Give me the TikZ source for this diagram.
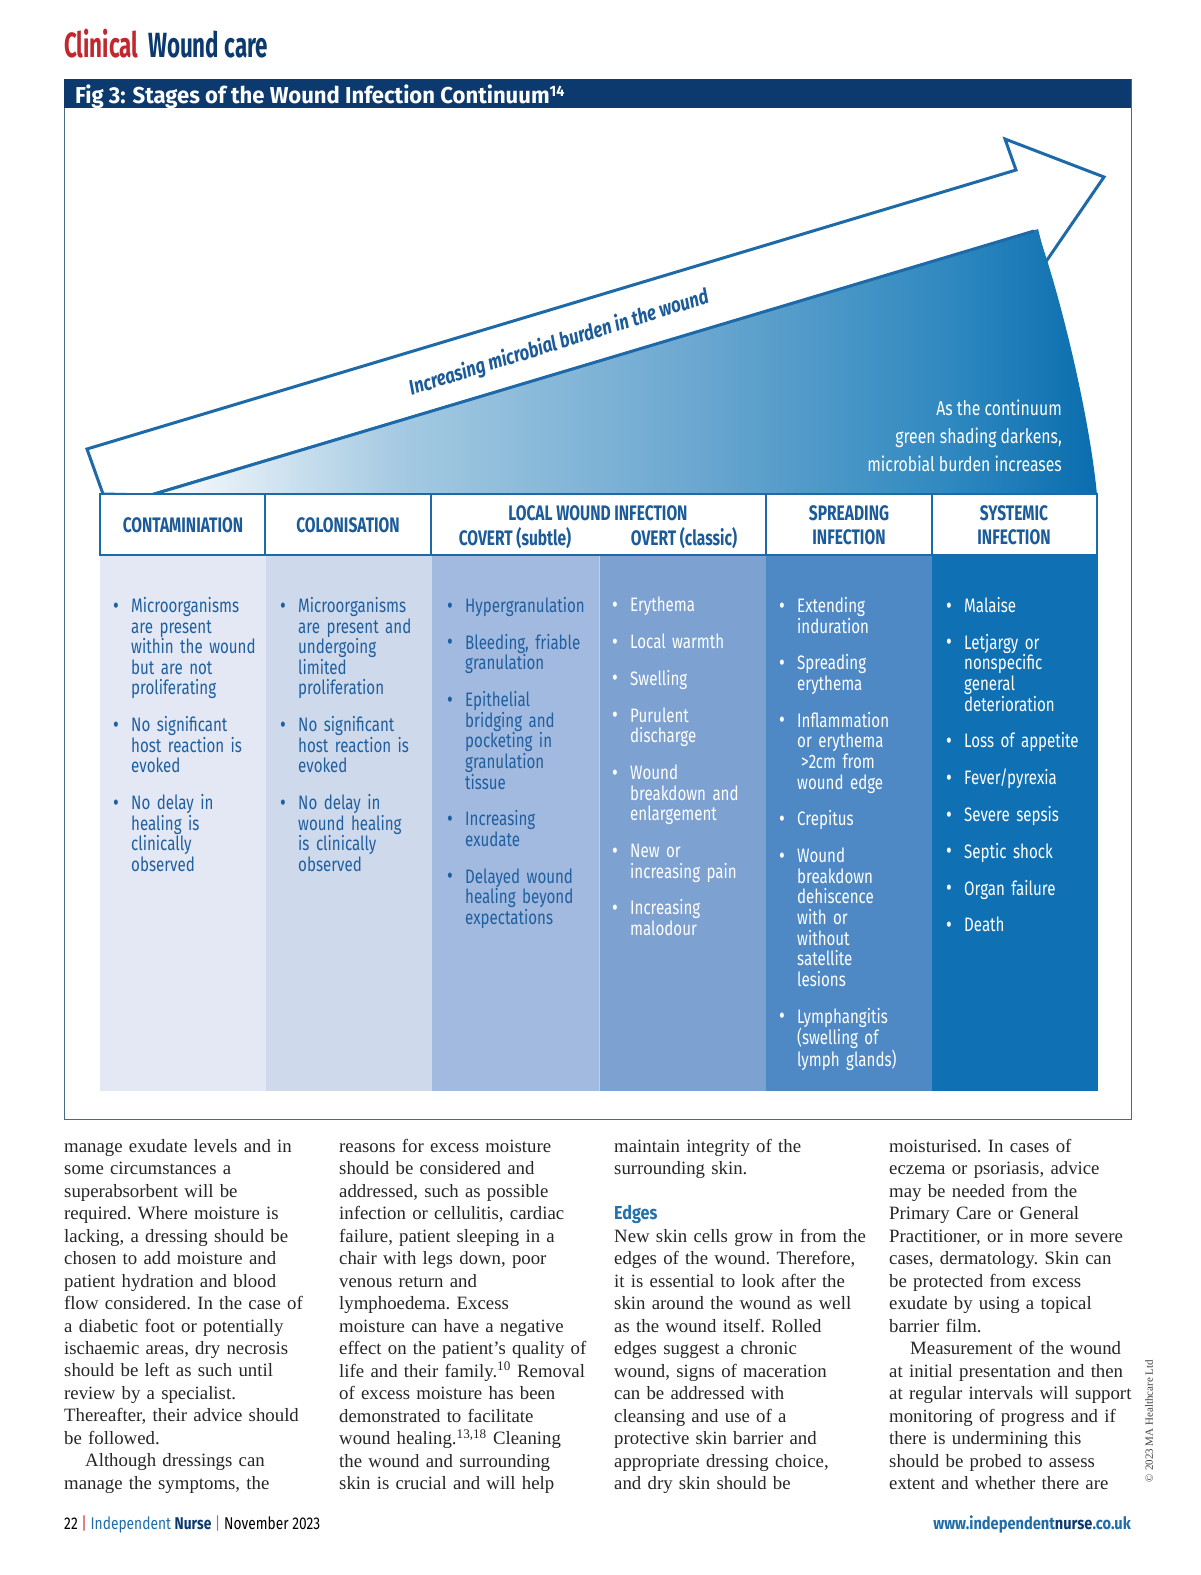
\documentclass[tikz,border=0pt]{standalone}
\usepackage{fontspec}
\setmainfont{Liberation Serif}
\newfontfamily\cond{Fira Sans}[FakeStretch=0.775]
\newfontfamily\condn{Fira Sans}[FakeStretch=0.79]
\newfontfamily\condh{Fira Sans}[FakeStretch=0.74]
\newfontfamily\conda{Fira Sans}[FakeStretch=0.80]
\newfontfamily\condt{Fira Sans}[FakeStretch=0.64]
\newfontfamily\condf{Fira Sans}[FakeStretch=0.81]
\newfontfamily\condu{Fira Sans}[FakeStretch=0.86]
\newfontfamily\condg{Fira Sans}[FakeStretch=0.96]
\definecolor{navy}{HTML}{0C3A6E}
\definecolor{cred}{HTML}{C1272D}
\definecolor{lineblue}{HTML}{1E6AA8}
\definecolor{hdrblue}{HTML}{1B5B99}
\definecolor{txtblue}{HTML}{1F5F9F}
\definecolor{gA}{HTML}{DCEAF4}
\definecolor{gB}{HTML}{A5CAE2}
\definecolor{gC}{HTML}{6AA7D0}
\definecolor{gD}{HTML}{3089C0}
\definecolor{gE}{HTML}{0A6DAE}
\definecolor{colA}{HTML}{E3E8F4}
\definecolor{colB}{HTML}{CFD9EC}
\definecolor{colC}{HTML}{A2BADF}
\definecolor{colD}{HTML}{7DA1D1}
\definecolor{colE}{HTML}{4E89C6}
\definecolor{colF}{HTML}{1070B4}
\definecolor{framec}{HTML}{4A6A80}
\definecolor{edgeblue}{HTML}{2372AE}
\definecolor{urlblue}{HTML}{1F6CA8}
\pgfdeclarehorizontalshading{wedgeshade}{100bp}{color(0bp)=(white); color(25bp)=(white); color(30bp)=(gA); color(38bp)=(gB); color(54bp)=(gC); color(67bp)=(gD); color(75bp)=(gE); color(100bp)=(gE)}
\newcommand\bul{\leavevmode\llap{\makebox[18pt][l]{{\fontsize{23}{20.6}\selectfont\raisebox{-0.6pt}{•}}}}}
\tikzset{
  coltxt/.style={anchor=north west, inner sep=0pt, text width=160pt, align=left,
    font=\cond\fontsize{19.5}{20.6}\selectfont},
  bodytxt/.style={anchor=north west, inner sep=0pt, text width=300pt, align=left,
    font=\frenchspacing\fontsize{18.8}{22.47}\selectfont, text=black!85},
  hdr/.style={inner sep=0pt, align=center, text=hdrblue,
    font=\condh\bfseries\fontsize{21}{24.5}\selectfont},
  cell/.style={draw=lineblue, line width=2pt, fill=white},
}
\begin{document}
\begin{tikzpicture}[x=1pt,y=-1pt]
\useasboundingbox (0,0) rectangle (1200,1575);
\fill[white] (0,0) rectangle (1200,1575);

% page heading
\node[anchor=base west, inner sep=0pt, font=\condt\bfseries\fontsize{35}{40}\selectfont] (head) at (64,57)
  {\textcolor{cred}{Clinical}\hspace{10pt}\textcolor{navy}{Wound care}};

% figure frame and title bar
\draw[framec, line width=0.8pt] (64,79) rectangle (1131,1119);
\fill[navy] (64,79) rectangle (1131,108);
\node[anchor=base west, inner sep=0pt, text=white, font=\condg\bfseries\fontsize{23}{26}\selectfont] (figtitle) at (75,103)
  {Fig 3: Stages of the Wound Infection Continuum\raisebox{7pt}{\fontsize{15}{16}\selectfont 14}};

% big arrow
\draw[lineblue, line width=3pt, line join=miter, fill=white]
  (103,494) -- (87,449) -- (1016,170) -- (1005,139) -- (1104,177) -- (1045,263) -- (1037,231) -- (151,495) -- cycle;
% gradient wedge
\shade[shading=wedgeshade]
  (151,495) -- (1037,230) .. controls (1062,300) and (1090,420) .. (1097,495) -- cycle;
\draw[lineblue, line width=3pt] (151,495) -- (1034,231);

\node[inner sep=0pt, rotate=17.3, text=hdrblue, font=\conda\bfseries\itshape\fontsize{21}{24}\selectfont] (arrowlbl) at (559,343)
  {Increasing microbial burden in the wound};
\node[anchor=north east, inner sep=0pt, align=right, text=white, font=\condn\fontsize{20}{28}\selectfont] (note) at (1062,400)
  {As the continuum\\green shading darkens,\\microbial burden increases};

% body columns
\fill[colA] (100,556) rectangle (266,1091);
\fill[colB] (266,556) rectangle (432,1091);
\fill[colC] (432,556) rectangle (599,1091);
\fill[colD] (599,556) rectangle (766,1091);
\fill[colE] (766,556) rectangle (932,1091);
\fill[colF] (932,556) rectangle (1098,1091);
\draw[white, opacity=0.5, line width=0.8pt] (599,556) -- (599,1091);

% header cells
\draw[cell] (100,494) rectangle (265,555);
\draw[cell] (265,494) rectangle (431,555);
\draw[cell] (431,494) rectangle (766,555);
\draw[cell] (766,494) rectangle (932,555);
\draw[cell] (932,494) rectangle (1097,555);
\node[hdr] (h1) at (183,525) {CONTAMINIATION};
\node[hdr] (h2) at (348,525) {COLONISATION};
\node[hdr] (h3) at (598,513) {LOCAL WOUND INFECTION};
\node[hdr] (h3a) at (515,538) {COVERT (subtle)};
\node[hdr] (h3b) at (684,538) {OVERT (classic)};
\node[hdr] (h4) at (849,525) {SPREADING\\INFECTION};
\node[hdr] (h5) at (1014,525) {SYSTEMIC\\INFECTION};

% column texts
\node[coltxt, text=txtblue] (c1) at (131,597) {\setlength{\parskip}{16.2pt}%
\bul Microorganisms\\are present\\within the wound\\but are not\\proliferating\par
\bul No significant\\host reaction is\\evoked\par
\bul No delay in\\healing is\\clinically\\observed};
\node[coltxt, text=txtblue] (c2) at (298,597) {\setlength{\parskip}{16.2pt}%
\bul Microorganisms\\are present and\\undergoing\\limited\\proliferation\par
\bul No significant\\host reaction is\\evoked\par
\bul No delay in\\wound healing\\is clinically\\observed};
\node[coltxt, text=txtblue] (c3) at (465,597) {\setlength{\parskip}{16.2pt}%
\bul Hypergranulation\par
\bul Bleeding, friable\\granulation\par
\bul Epithelial\\bridging and\\pocketing in\\granulation\\tissue\par
\bul Increasing\\exudate\par
\bul Delayed wound\\healing beyond\\expectations};
\node[coltxt, text=white] (c4) at (630,597) {\setlength{\parskip}{16.2pt}%
\bul Erythema\par
\bul Local warmth\par
\bul Swelling\par
\bul Purulent\\discharge\par
\bul Wound\\breakdown and\\enlargement\par
\bul New or\\increasing pain\par
\bul Increasing\\malodour};
\node[coltxt, text=white] (c5) at (797,597) {\setlength{\parskip}{16.2pt}%
\bul Extending\\induration\par
\bul Spreading\\erythema\par
\bul Inflammation\\or erythema\\\hspace*{4pt}>2cm from\\wound edge\par
\bul Crepitus\par
\bul Wound\\breakdown\\dehiscence\\with or\\without\\satellite\\lesions\par
\bul Lymphangitis\\(swelling of\\lymph glands)};
\node[coltxt, text=white] (c6) at (964,597) {\setlength{\parskip}{16.2pt}%
\bul Malaise\par
\bul Letjargy or\\nonspecific\\general\\deterioration\par
\bul Loss of appetite\par
\bul Fever/pyrexia\par
\bul Severe sepsis\par
\bul Septic shock\par
\bul Organ failure\par
\bul Death};

% article body text
\node[bodytxt] (b1) at (64,1139) {manage exudate levels and in\\some circumstances a\\superabsorbent will be\\required. Where moisture is\\lacking, a dressing should be\\chosen to add moisture and\\patient hydration and blood\\flow considered. In the case of\\a diabetic foot or potentially\\ischaemic areas, dry necrosis\\should be left as such until\\review by a specialist.\\Thereafter, their advice should\\be followed.\\\hspace*{21pt}Although dressings can\\manage the symptoms, the};
\node[bodytxt] (b2) at (339,1139) {reasons for excess moisture\\should be considered and\\addressed, such as possible\\infection or cellulitis, cardiac\\failure, patient sleeping in a\\chair with legs down, poor\\venous return and\\lymphoedema. Excess\\moisture can have a negative\\effect on the patient’s quality of\\life and their family.\textsuperscript{10} Removal\\of excess moisture has been\\demonstrated to facilitate\\wound healing.\textsuperscript{13,18} Cleaning\\the wound and surrounding\\skin is crucial and will help};
\node[bodytxt] (b3) at (614,1139) {maintain integrity of the\\surrounding skin.\\[22.47pt]{\color{edgeblue}\condu\bfseries Edges}\\New skin cells grow in from the\\edges of the wound. Therefore,\\it is essential to look after the\\skin around the wound as well\\as the wound itself. Rolled\\edges suggest a chronic\\wound, signs of maceration\\can be addressed with\\cleansing and use of a\\protective skin barrier and\\appropriate dressing choice,\\and dry skin should be};
\node[bodytxt] (b4) at (889,1139) {moisturised. In cases of\\eczema or psoriasis, advice\\may be needed from the\\Primary Care or General\\Practitioner, or in more severe\\cases, dermatology. Skin can\\be protected from excess\\exudate by using a topical\\barrier film.\\\hspace*{21pt}Measurement of the wound\\at initial presentation and then\\at regular intervals will support\\monitoring of progress and if\\there is undermining this\\should be probed to assess\\extent and whether there are};

\node[rotate=90, inner sep=0pt, text=black!75, font=\fontsize{11}{13}\selectfont] (copy) at (1149,1421) {© 2023 MA Healthcare Ltd};

% footer
\node[anchor=base west, inner sep=0pt, font=\condf\fontsize{17}{20}\selectfont] (foot) at (64,1529)
  {22 \textcolor{cred}{|} \textcolor{urlblue}{Independent} \textcolor{navy}{\bfseries Nurse} \textcolor{black!50}{|} November 2023};
\node[anchor=base east, inner sep=0pt, font=\condu\bfseries\fontsize{17}{20}\selectfont] (url) at (1131,1529)
  {\textcolor{urlblue}{www.independent}\textcolor{navy}{nurse}\textcolor{urlblue}{.co.uk}};
\end{tikzpicture}
\end{document}
